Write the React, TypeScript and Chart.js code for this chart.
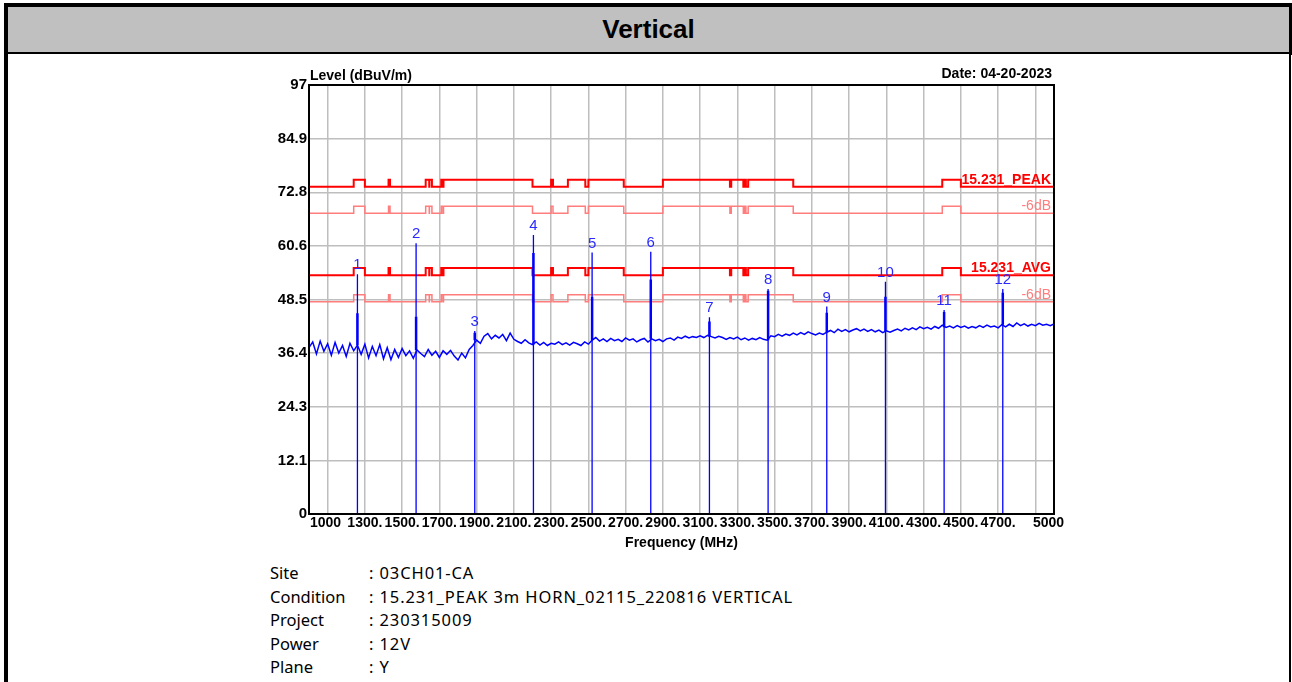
import React, { useEffect, useRef } from 'react';
import { Chart, registerables } from 'chart.js';

Chart.register(...registerables);

// ---------- data ----------
const yTickValues = [0, 12.125, 24.25, 36.375, 48.5, 60.625, 72.75, 84.875, 97];
const yTickLabels = ['0', '12.1', '24.3', '36.4', '48.5', '60.6', '72.8', '84.9', '97'];

const xGridValues = [1100, 1300, 1500, 1700, 1900, 2100, 2300, 2500, 2700, 2900, 3100, 3300, 3500, 3700, 3900, 4100, 4300, 4500, 4700, 4900];
const xLabelValues = [1000, 1300, 1500, 1700, 1900, 2100, 2300, 2500, 2700, 2900, 3100, 3300, 3500, 3700, 3900, 4100, 4300, 4500, 4700, 5000];
const xLabelTexts = ['1000', '1300.', '1500.', '1700.', '1900.', '2100.', '2300.', '2500.', '2700.', '2900.', '3100.', '3300.', '3500.', '3700.', '3900.', '4100.', '4300.', '4500.', '4700.', '5000'];

// limit line band edges (MHz)
const limitEdges = [1000, 1240, 1300, 1427, 1435, 1626.5, 1645.5, 1646.5, 1660, 1710, 1718.8, 1722.2, 2200, 2300, 2310, 2390, 2483.5, 2500, 2690, 2900, 3260, 3267, 3332, 3339, 3345.8, 3358, 3600, 4400, 4500, 5000];
const peakLimit = [74, 75.6, 74, 75.6, 74, 75.6, 74, 75.6, 74, 75.6, 74, 75.6, 74, 75.6, 74, 75.6, 74, 75.6, 74, 75.6, 74, 75.6, 74, 75.6, 74, 75.6, 74, 75.6, 74, 74];
const peakLimit6 = [68, 69.6, 68, 69.6, 68, 69.6, 68, 69.6, 68, 69.6, 68, 69.6, 68, 69.6, 68, 69.6, 68, 69.6, 68, 69.6, 68, 69.6, 68, 69.6, 68, 69.6, 68, 69.6, 68, 68];
const avgLimit = [54, 55.6, 54, 55.6, 54, 55.6, 54, 55.6, 54, 55.6, 54, 55.6, 54, 55.6, 54, 55.6, 54, 55.6, 54, 55.6, 54, 55.6, 54, 55.6, 54, 55.6, 54, 55.6, 54, 54];
const avgLimit6 = [48, 49.6, 48, 49.6, 48, 49.6, 48, 49.6, 48, 49.6, 48, 49.6, 48, 49.6, 48, 49.6, 48, 49.6, 48, 49.6, 48, 49.6, 48, 49.6, 48, 49.6, 48, 49.6, 48, 48];

// measured trace, 1000..5000 MHz every 20 MHz
const traceStart = 1000;
const traceStep = 20;
const traceLevels = [
  37.6, 38.9, 36.2, 39.1, 36.8, 38.5, 35.9, 38.8, 36.4, 38.1,
  35.6, 38.6, 36.9, 38.2, 36.1, 38.4, 35.3, 37.9, 35.8, 38.3,
  35.1, 37.6, 34.9, 37.2, 35.4, 37.4, 35.8, 36.9, 35.2, 37.1,
  36.3, 35.6, 37.2, 35.9, 36.8, 35.4, 36.9, 36.1, 37.0, 35.7,
  34.8, 36.4, 35.3, 37.2, 38.1, 39.3, 38.6, 40.2, 40.8, 39.6,
  40.4, 39.8, 40.6, 39.2, 40.9, 39.5, 39.0, 38.6, 39.4, 38.7,
  38.3, 38.9, 38.2, 38.8, 38.1, 38.6, 38.4, 38.9, 38.3, 38.7,
  38.2, 38.8, 38.5, 38.1, 38.9, 38.4, 39.3, 39.9, 39.1, 39.6,
  39.0, 39.7, 39.2, 39.5, 39.0, 39.8, 39.3, 39.6, 38.9, 39.4,
  39.7, 38.9, 39.6, 39.2, 39.5, 39.0, 39.6, 39.8, 39.3, 40.0,
  39.7, 40.2, 39.8, 40.1, 39.9, 40.3, 39.9, 40.4, 40.1, 39.8,
  40.2, 39.9, 39.5, 39.9, 39.6, 40.0, 39.4, 39.8, 39.3, 39.7,
  39.4, 39.9, 39.5, 39.3, 40.3, 40.1, 40.6, 40.2, 40.7, 40.4,
  40.9, 40.5, 41.0, 40.6, 41.2, 40.8, 40.5, 40.9, 40.6, 41.1,
  41.5, 41.0, 41.8, 41.3, 41.7, 41.2, 41.6, 41.9, 41.4, 41.8,
  41.3, 41.7, 41.2, 41.6, 41.0, 41.4, 41.1, 41.5, 41.8, 41.4,
  42.0, 41.6, 42.1, 41.7, 42.3, 41.9, 42.2, 41.8, 42.4, 42.0,
  42.7, 42.2, 42.5, 42.1, 42.6, 42.2, 42.5, 42.0, 42.4, 42.1,
  42.6, 42.2, 42.7, 42.3, 42.5, 42.1, 42.8, 42.3, 42.9, 42.4,
  43.2, 42.6, 43.0, 42.5, 42.9, 42.6, 43.1, 42.7, 42.9, 42.6,
  43.0,
];

// markers (harmonics)
const markerFreqs = [1260, 1575, 1890, 2205, 2520, 2835, 3150, 3465, 3780, 4095, 4410, 4725];
const markerLevels = [54.2, 61.2, 41.4, 63.1, 59.1, 59.3, 44.5, 50.9, 46.9, 52.5, 46.1, 50.9];
const spikeLevels = [45.4, 44.6, 41.0, 59.0, 49.1, 53.0, 43.5, 50.5, 45.5, 49.1, 45.7, 50.0];
const markerNames = ['1', '2', '3', '4', '5', '6', '7', '8', '9', '10', '11', '12'];

const infoLabels = ['Site', 'Condition', 'Project', 'Power', 'Plane'];
const infoValues = [': 03CH01-CA', ': 15.231_PEAK 3m HORN_02115_220816 VERTICAL', ': 230315009', ': 12V', ': Y'];

// ---------- styles ----------
const AX_FONT = '"Liberation Sans", Arial, sans-serif';
const RED = '#ff0000';
const PINK = 'rgb(255,125,125)';
const BLUE = '#0000ff';

const textPlugin = {
  id: 'emcTexts',
  afterDraw(chart: any) {
    const { ctx, chartArea: a } = chart;
    const x = chart.scales.x;
    const y = chart.scales.y;
    ctx.save();
    ctx.strokeStyle = '#000';
    ctx.lineWidth = 2;
    ctx.strokeRect(a.left, a.top, a.right - a.left, a.bottom - a.top);

    ctx.fillStyle = '#000';
    ctx.font = `bold 14px ${AX_FONT}`;
    ctx.textBaseline = 'alphabetic';
    ctx.textAlign = 'left';
    ctx.fillText('Level (dBuV/m)', a.left + 1, a.top - 5);
    ctx.textAlign = 'right';
    ctx.fillText('Date: 04-20-2023', a.right - 2, a.top - 7);
    ctx.textAlign = 'center';
    ctx.fillText('Frequency (MHz)', (a.left + a.right) / 2, a.bottom + 33);

    xLabelValues.forEach((v, i) => {
      const px = x.getPixelForValue(v);
      if (i === 0) {
        ctx.textAlign = 'left';
        ctx.fillText(xLabelTexts[i], px + 1, a.bottom + 13);
      } else if (i === xLabelValues.length - 1) {
        ctx.textAlign = 'left';
        ctx.fillText(xLabelTexts[i], px - 21, a.bottom + 13);
      } else {
        ctx.textAlign = 'center';
        ctx.fillText(xLabelTexts[i], px, a.bottom + 13);
      }
    });

    const last = limitEdges.length - 1;
    ctx.textAlign = 'right';
    ctx.font = `bold 14px ${AX_FONT}`;
    ctx.fillStyle = RED;
    ctx.fillText('15.231_PEAK', a.right - 3, y.getPixelForValue(peakLimit[last]) - 3);
    ctx.fillText('15.231_AVG', a.right - 3, y.getPixelForValue(avgLimit[last]) - 3);
    ctx.font = `14px ${AX_FONT}`;
    ctx.fillStyle = PINK;
    ctx.fillText('-6dB', a.right - 3, y.getPixelForValue(peakLimit6[last]) - 3);
    ctx.fillText('-6dB', a.right - 3, y.getPixelForValue(avgLimit6[last]) - 3);

    ctx.textAlign = 'center';
    ctx.font = `15px ${AX_FONT}`;
    ctx.fillStyle = '#2a2aff';
    markerFreqs.forEach((f, i) => {
      ctx.fillText(markerNames[i], x.getPixelForValue(f), y.getPixelForValue(markerLevels[i]) - 5);
    });
    ctx.restore();
  },
};

function nearestTrace(f: number) {
  return traceLevels[Math.round((f - traceStart) / traceStep)];
}

function buildTrace() {
  return traceLevels.map((v, i) => ({ x: traceStart + traceStep * i, y: v }));
}

function buildStems() {
  const pts: { x: number; y: number | null }[] = [];
  markerFreqs.forEach((f, i) => {
    pts.push({ x: f, y: 0 });
    pts.push({ x: f, y: markerLevels[i] });
    pts.push({ x: f, y: null });
  });
  return pts;
}

function buildSpikes() {
  const pts: { x: number; y: number | null }[] = [];
  markerFreqs.forEach((f, i) => {
    pts.push({ x: f, y: nearestTrace(f) });
    pts.push({ x: f, y: spikeLevels[i] });
    pts.push({ x: f, y: null });
  });
  return pts;
}

function limitPoints(vals: number[]) {
  return limitEdges.map((f, i) => ({ x: f, y: vals[i] }));
}

function EmcChart() {
  const ref = useRef<HTMLCanvasElement | null>(null);
  useEffect(() => {
    if (!ref.current) return;
    const chart = new Chart(ref.current, {
      type: 'line',
      data: {
        datasets: [
          { data: buildSpikes() as any, borderColor: BLUE, borderWidth: 2.5, pointRadius: 0, spanGaps: false },
          { data: buildStems() as any, borderColor: BLUE, borderWidth: 1.3, pointRadius: 0, spanGaps: false },
          { data: buildTrace() as any, borderColor: BLUE, borderWidth: 1.5, pointRadius: 0 },
          { data: limitPoints(peakLimit) as any, borderColor: RED, borderWidth: 2, pointRadius: 0, stepped: 'before' },
          { data: limitPoints(avgLimit) as any, borderColor: RED, borderWidth: 2, pointRadius: 0, stepped: 'before' },
          { data: limitPoints(peakLimit6) as any, borderColor: PINK, borderWidth: 1.5, pointRadius: 0, stepped: 'before' },
          { data: limitPoints(avgLimit6) as any, borderColor: PINK, borderWidth: 1.5, pointRadius: 0, stepped: 'before' },
        ],
      },
      options: {
        animation: false,
        responsive: false,
        maintainAspectRatio: false,
        layout: { padding: { left: 0, right: 16, top: 27, bottom: 0 } },
        plugins: { legend: { display: false }, tooltip: { enabled: false }, title: { display: false } },
        elements: { point: { radius: 0 }, line: { tension: 0 } },
        scales: {
          x: {
            type: 'linear',
            min: 1000,
            max: 5000,
            afterBuildTicks: (s: any) => { s.ticks = xGridValues.map((v) => ({ value: v })); },
            afterFit: (s: any) => { s.height = 36; },
            ticks: { display: false },
            grid: { color: 'rgb(190,190,190)', lineWidth: 1.5, drawTicks: false },
            border: { display: true, color: '#000', width: 2 },
          },
          y: {
            type: 'linear',
            min: 0,
            max: 97,
            afterBuildTicks: (s: any) => { s.ticks = yTickValues.map((v) => ({ value: v })); },
            afterFit: (s: any) => { s.width = 69; },
            ticks: {
              autoSkip: false,
              padding: 2,
              color: '#000',
              font: { family: AX_FONT, size: 15, weight: 'bold' },
              callback: (_v: any, i: number) => yTickLabels[i],
            },
            grid: { color: 'rgb(190,190,190)', lineWidth: 1.5, drawTicks: false },
            border: { display: true, color: '#000', width: 2 },
          },
        },
      },
      plugins: [textPlugin],
    } as any);
    return () => chart.destroy();
  }, []);
  return (
    <canvas
      ref={ref}
      width={830}
      height={492}
      style={{ position: 'absolute', left: 240, top: 58, width: 830, height: 492, display: 'block' }}
    />
  );
}

export default function App() {
  return (
    <div style={{ position: 'fixed', left: 0, top: 0, width: 1292, height: 682, background: '#fff', overflow: 'hidden' }}>
      <div style={{ position: 'absolute', left: 4, top: 3, width: 1288, height: 4, background: '#000' }} />
      <div style={{ position: 'absolute', left: 4, top: 3, width: 4, height: 679, background: '#000' }} />
      <div style={{ position: 'absolute', left: 1289, top: 3, width: 3, height: 52, background: '#000' }} />
      <div style={{ position: 'absolute', left: 1289, top: 3, width: 2, height: 679, background: '#000' }} />
      <div style={{ position: 'absolute', left: 8, top: 7, width: 1281, height: 45, background: '#c0c0c0' }} />
      <div style={{ position: 'absolute', left: 8, top: 52, width: 1281, height: 2, background: '#000' }} />
      <div
        style={{
          position: 'absolute', left: 8, top: 7, width: 1281, height: 45,
          display: 'flex', alignItems: 'center', justifyContent: 'center',
          font: `bold 26px ${AX_FONT}`, color: '#000',
        }}
      >
        Vertical
      </div>
      <EmcChart />
      <div style={{ position: 'absolute', left: 270, top: 561, font: `16.5px "Comic Sans MS", "Noto Sans", sans-serif`, color: '#000' }}>
        {infoLabels.map((l, i) => (
          <div key={l} style={{ display: 'flex', height: 23.5, lineHeight: '23.5px', whiteSpace: 'nowrap' }}>
            <span style={{ width: 99, display: 'inline-block' }}>{l}</span>
            <span style={{ letterSpacing: '0.9px' }}>{infoValues[i]}</span>
          </div>
        ))}
      </div>
    </div>
  );
}
